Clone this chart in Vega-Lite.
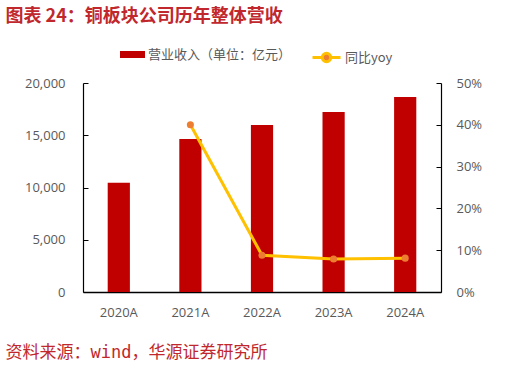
{
  "$schema": "https://vega.github.io/schema/vega-lite/v6.json",
  "background": "white",
  "padding": {"left": 5, "top": 8, "right": 5, "bottom": 5},
  "title": {
    "text": "图表 24：铜板块公司历年整体营收",
    "anchor": "start",
    "frame": "bounds",
    "font": "Noto Sans CJK SC",
    "fontSize": 18,
    "fontWeight": "bold",
    "color": "#c0282d",
    "offset": 16
  },
  "config": {
    "view": {"stroke": null},
    "axis": {"grid": false, "labelFont": "Open Sans", "labelFontSize": 13, "labelColor": "#595959", "domainColor": "#000000", "tickColor": "#000000", "titleFontSize": 0},
    "legend": {"labelFont": "Noto Sans CJK SC", "labelFontSize": 13, "labelColor": "#595959"}
  },
  "data": {
    "values": [
      {"year": "2020A", "rev": 10450, "yoy": null},
      {"year": "2021A", "rev": 14650, "yoy": 0.40},
      {"year": "2022A", "rev": 15980, "yoy": 0.088},
      {"year": "2023A", "rev": 17230, "yoy": 0.079},
      {"year": "2024A", "rev": 18650, "yoy": 0.081}
    ]
  },
  "vconcat": [
    {
      "width": 358,
      "height": 209,
      "title": {
        "text": "资料来源：wind，华源证券研究所",
        "orient": "bottom",
        "anchor": "start",
        "frame": "bounds",
        "font": "DejaVu Sans Mono, Noto Sans CJK SC",
        "fontSize": 17,
        "fontWeight": "normal",
        "color": "#c0282d",
        "dx": -19,
        "offset": 26
      },
      "encoding": {
        "x": {"field": "year", "type": "ordinal", "title": null,
          "scale": {"paddingInner": 0.69, "paddingOuter": 0.345},
          "axis": {"labelAngle": 0, "tickSize": -3, "labelPadding": 17, "domainWidth": 1.5}}
      },
      "layer": [
        {
          "mark": {"type": "bar"},
          "encoding": {
            "y": {"field": "rev", "type": "quantitative", "title": null,
              "scale": {"domain": [0, 20000]},
              "axis": {"format": ",.0f", "tickCount": 5, "tickSize": -5, "labelPadding": 23, "domainWidth": 1.2}},
            "fill": {"datum": "营业收入（单位：亿元）", "type": "nominal",
              "scale": {"range": ["#c00000"]},
              "legend": {"title": null, "orient": "none", "legendX": 37, "legendY": -41, "symbolType": "M-1,-0.28H1V0.28H-1Z", "symbolSize": 625, "symbolStrokeWidth": 0, "labelOffset": 3}}
          }
        },
        {
          "transform": [{"filter": "datum.yoy != null"}],
          "mark": {"type": "line", "color": "#ffc000", "strokeWidth": 3, "point": {"filled": true, "fill": "#ed7d31", "strokeWidth": 0, "size": 50}},
          "encoding": {
            "y": {"field": "yoy", "type": "quantitative", "title": null,
              "scale": {"domain": [0, 0.5]},
              "axis": {"format": ".0%", "orient": "right", "tickCount": 5, "tickSize": -5, "labelPadding": 20, "domainWidth": 1.2}},
            "stroke": {"datum": "同比yoy", "type": "nominal",
              "scale": {"range": ["#ffc000"]},
              "legend": {"title": null, "orient": "none", "legendX": 228, "legendY": -41, "symbolType": "M-1,0H-0.3A0.3,0.3 0 1,1 0.3,0H1M0.3,0A0.3,0.3 0 1,1 -0.3,0", "symbolSize": 784, "symbolStrokeWidth": 3, "symbolFillColor": "#ed7d31", "labelOffset": 3}}
          }
        }
      ],
      "resolve": {"scale": {"y": "independent"}}
    }
  ]
}
